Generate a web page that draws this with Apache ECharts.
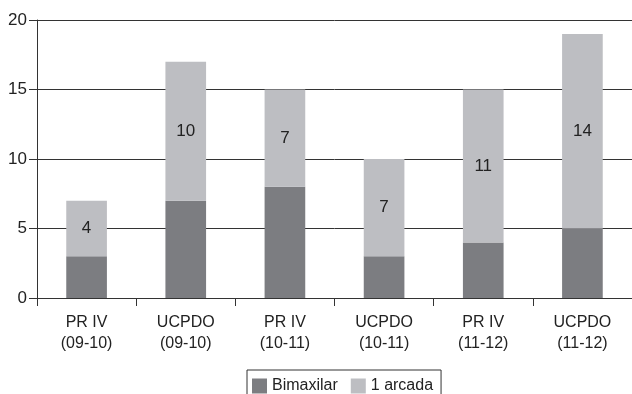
<!DOCTYPE html>
<html>
<head>
<meta charset="UTF-8">
<title>Bimaxilar / 1 arcada</title>
<script src="https://cdn.jsdelivr.net/npm/echarts@6/dist/echarts.min.js"></script>
<style>
body { margin: 0; padding: 0; background: #fff; }
#main { width: 632px; height: 394px; }
</style>
</head>
<body>
<div id="main"></div>
<script>
var categories = ['PR IV\n(09-10)', 'UCPDO\n(09-10)', 'PR IV\n(10-11)', 'UCPDO\n(10-11)', 'PR IV\n(11-12)', 'UCPDO\n(11-12)'];
var bimaxilar = [3, 7, 8, 3, 4, 5];
var arcada = [4, 10, 7, 7, 11, 14];

var myChart = echarts.init(document.getElementById('main'));
var option = {
    animation: false,
    textStyle: { fontFamily: 'Liberation Sans, Arial, sans-serif' },
    grid: { left: 37, right: -3, top: 20, bottom: 96 },
    legend: {
        left: 247,
        top: 370,
        data: ['Bimaxilar', '1 arcada'],
        icon: 'rect',
        borderColor: '#333',
        borderWidth: 1,
        padding: [8, 8, 8, 5],
        itemWidth: 15,
        itemHeight: 15,
        itemGap: 13,
        textStyle: { fontSize: 16, color: '#222' }
    },
    xAxis: {
        type: 'category',
        data: categories,
        axisLine: { lineStyle: { color: '#333', width: 1 } },
        axisTick: { show: true, interval: 0, length: 8, lineStyle: { color: '#333' } },
        axisLabel: { fontSize: 16, color: '#222', lineHeight: 21, margin: 14, interval: 0 }
    },
    yAxis: {
        type: 'value',
        min: 0,
        max: 20,
        interval: 5,
        axisLine: { show: true, lineStyle: { color: '#333', width: 1 } },
        axisTick: { show: true, length: 8, lineStyle: { color: '#333' } },
        axisLabel: { fontSize: 17, color: '#222', margin: 10 },
        splitLine: { lineStyle: { color: '#333', width: 1 } }
    },
    series: [
        {
            name: 'Bimaxilar',
            type: 'bar',
            stack: 'total',
            barWidth: '41%',
            data: bimaxilar,
            itemStyle: { color: '#7c7d81' }
        },
        {
            name: '1 arcada',
            type: 'bar',
            stack: 'total',
            barWidth: '41%',
            data: arcada,
            itemStyle: { color: '#bdbec2' },
            label: { show: true, position: 'inside', fontSize: 17, color: '#222' }
        }
    ]
};
myChart.setOption(option);
</script>
</body>
</html>
